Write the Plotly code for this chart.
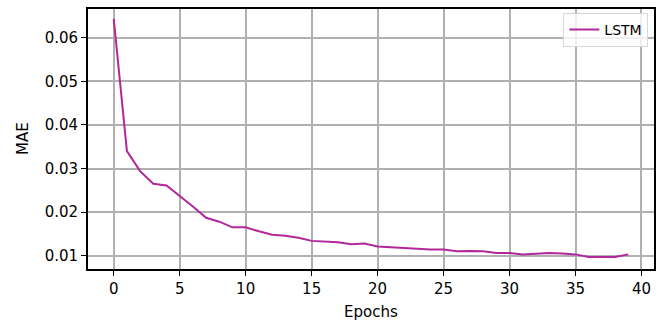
import plotly.graph_objects as go

epochs = list(range(40))
mae = [0.0643, 0.0340, 0.0294, 0.0265, 0.0261, 0.0238, 0.0213, 0.0187, 0.0178, 0.0165,
       0.0165, 0.0156, 0.0148, 0.0146, 0.0141, 0.0134, 0.0133, 0.0131, 0.0126, 0.0128,
       0.0121, 0.0119, 0.0118, 0.0116, 0.0114, 0.0114, 0.0110, 0.0111, 0.0110, 0.0106,
       0.0106, 0.0103, 0.0105, 0.0106, 0.0105, 0.0103, 0.0097, 0.0097, 0.0097, 0.0103]
x_ticks = [0, 5, 10, 15, 20, 25, 30, 35, 40]
y_ticks = [0.01, 0.02, 0.03, 0.04, 0.05, 0.06]
y_labels = ["0.01", "0.02", "0.03", "0.04", "0.05", "0.06"]

fig = go.Figure()
fig.add_trace(go.Scatter(x=epochs, y=mae, mode="lines", name="LSTM",
                         line=dict(color="#b2289a", width=2)))

font = dict(family="DejaVu Sans", size=15, color="black")
axis_common = dict(showline=True, linecolor="black", linewidth=1.8, mirror=True,
                   ticks="outside", ticklen=5, tickwidth=1.3, tickcolor="black",
                   showgrid=True, gridcolor="#b0b0b0", gridwidth=1.6, zeroline=False,
                   tickfont=font, automargin=False)

fig.update_layout(
    width=672, height=322,
    margin=dict(l=88, r=18, t=9, b=53),
    plot_bgcolor="white", paper_bgcolor="white",
    font=font,
    showlegend=True,
    legend=dict(x=0.99, y=0.985, xanchor="right", yanchor="top",
                bgcolor="rgba(255,255,255,0.8)", bordercolor="#d8d8d8", borderwidth=1,
                font=dict(family="DejaVu Sans", size=14, color="black")),
    xaxis=dict(range=[-1.95, 40.95], tickvals=x_ticks, **axis_common),
    yaxis=dict(range=[0.00695, 0.06658], tickvals=y_ticks, ticktext=y_labels, **axis_common),
    annotations=[
        dict(text="Epochs", xref="paper", yref="paper", x=0.5, y=0, yshift=-43,
             xanchor="center", yanchor="middle", showarrow=False, font=font),
        dict(text="MAE", xref="paper", yref="paper", x=0, y=0.5, xshift=-65,
             xanchor="center", yanchor="middle", showarrow=False, textangle=-90, font=font),
    ],
)

fig.write_html("out.html")
